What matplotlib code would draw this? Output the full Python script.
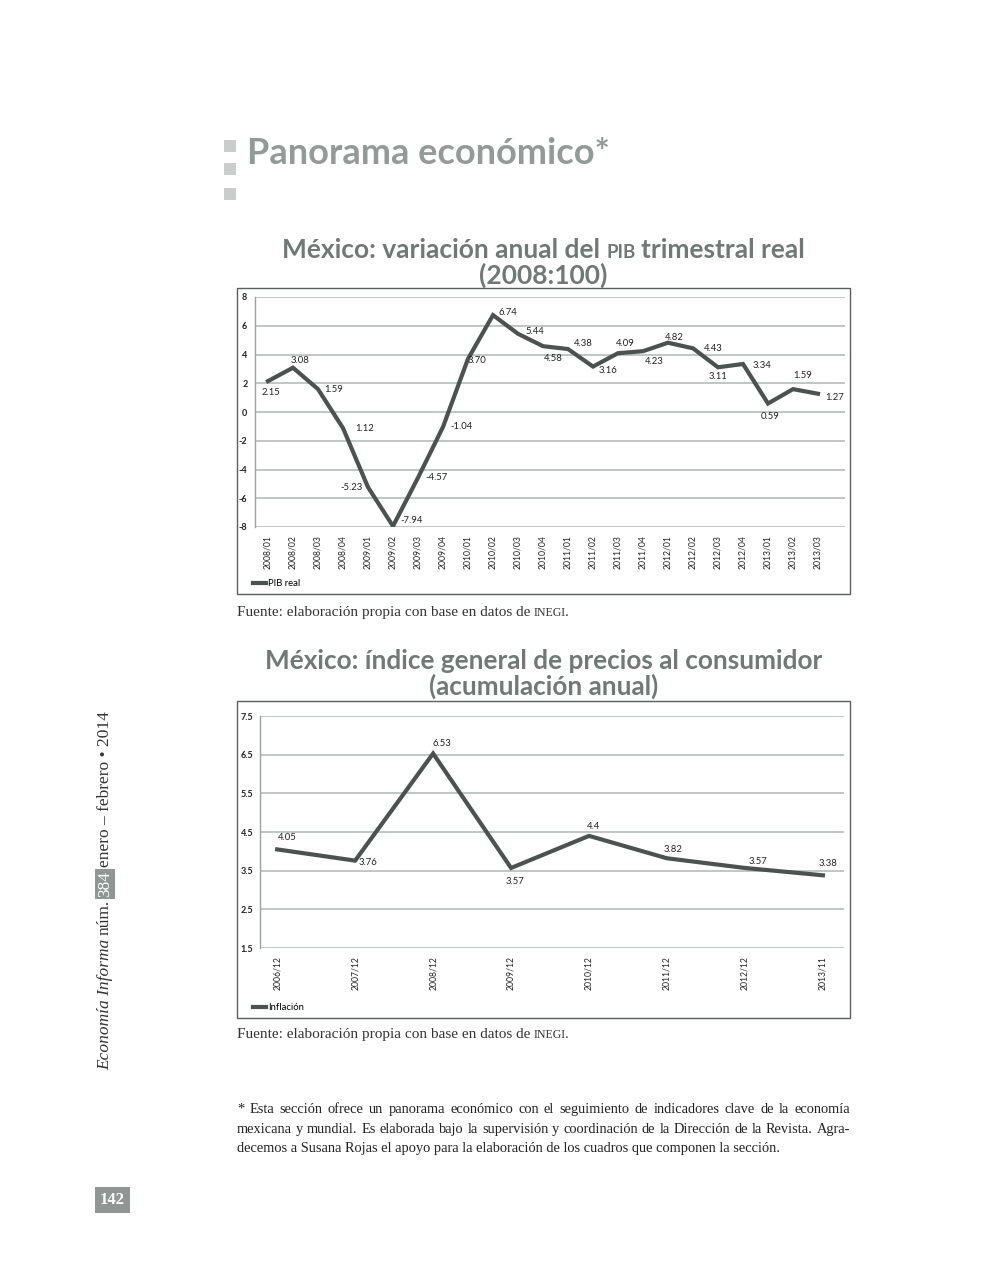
import matplotlib.pyplot as plt
from matplotlib.patches import Rectangle

W, H = 992, 1276

pib_quarters = ["2008/01", "2008/02", "2008/03", "2008/04", "2009/01", "2009/02",
                "2009/03", "2009/04", "2010/01", "2010/02", "2010/03", "2010/04",
                "2011/01", "2011/02", "2011/03", "2011/04", "2012/01", "2012/02",
                "2012/03", "2012/04", "2013/01", "2013/02", "2013/03"]
pib_values = [2.15, 3.08, 1.59, -1.12, -5.23, -7.94, -4.57, -1.04, 3.70, 6.74, 5.44,
              4.58, 4.38, 3.16, 4.09, 4.23, 4.82, 4.43, 3.11, 3.34, 0.59, 1.59, 1.27]
# labels as printed in the source (the 2008/04 label lacks its minus sign)
pib_labels = ["2.15", "3.08", "1.59", "1.12", "-5.23", "-7.94", "-4.57", "-1.04",
              "3.70", "6.74", "5.44", "4.58", "4.38", "3.16", "4.09", "4.23", "4.82",
              "4.43", "3.11", "3.34", "0.59", "1.59", "1.27"]
pib_yticks = [-8, -6, -4, -2, 0, 2, 4, 6, 8]

infl_periods = ["2006/12", "2007/12", "2008/12", "2009/12", "2010/12", "2011/12",
                "2012/12", "2013/11"]
infl_values = [4.05, 3.76, 6.53, 3.57, 4.4, 3.82, 3.57, 3.38]
infl_labels = ["4.05", "3.76", "6.53", "3.57", "4.4", "3.82", "3.57", "3.38"]
infl_yticks = [1.5, 2.5, 3.5, 4.5, 5.5, 6.5, 7.5]

# label offsets in pixels (dx right, dy down)
pib_offsets = [(3, 11), (7, -7), (16, 0), (22, 0), (-16, 0), (19, -6), (19, 0),
               (19, 0), (9, 2), (15, -3), (17, -2), (10, 12), (15, -6), (15, 4),
               (7, -10), (11, 10), (6, -5), (20, 0), (0, 9), (19, 2), (2, 13),
               (10, -14), (17, 4)]
infl_offsets = [(10, -12), (13, 2), (9, -10), (4, 14), (4, -9), (6, -9), (13, -6),
                (5, -12)]

SANS = "Lato"
SERIF = "Liberation Serif"
LINE = "#4b5351"
GRID = "#b9c3c1"
TITLE = "#6f7976"

fig = plt.figure(figsize=(W / 100, H / 100), dpi=100)
renderer = fig.canvas.get_renderer()


def fx(px):
    return px / W


def fy(py):
    return 1 - py / H


def text_run(x, y, parts, ha="left", vertical=False, **common):
    # place text pieces one after another; each piece may carry a gap (px) before it
    objs = []
    total = 0
    for s, props, gap in parts:
        kw = dict(common)
        kw.update(props)
        if vertical:
            t = fig.text(0, 0, s, rotation=90, ha="center", va="bottom", **kw)
            w = t.get_window_extent(renderer).height
        else:
            t = fig.text(0, 0, s, ha="left", va="baseline", **kw)
            w = t.get_window_extent(renderer).width
        objs.append((t, w, gap))
        total += w + gap
    if vertical:
        pos = y
    else:
        pos = x - total / 2 if ha == "center" else x
    for t, w, gap in objs:
        if vertical:
            pos -= gap
            t.set_position((fx(x), fy(pos)))
            pos -= w
        else:
            pos += gap
            t.set_position((fx(pos), fy(y)))
            pos += w
    return objs


def justify(x0, x1, y, line, **kw):
    words = line.split(" ")
    texts = [fig.text(0, fy(y), w, va="baseline", **kw) for w in words]
    widths = [t.get_window_extent(renderer).width for t in texts]
    gap = (x1 - x0 - sum(widths)) / (len(words) - 1)
    pos = x0
    for t, w in zip(texts, widths):
        t.set_x(fx(pos))
        pos += w + gap


# header
for top in (140, 163, 188):
    fig.add_artist(Rectangle((fx(224), fy(top + 12)), 12 / W, 12 / H,
                             transform=fig.transFigure, color="#c9cdcc", lw=0))
fig.text(fx(247), fy(164), "Panorama económico*", fontsize=26, fontweight="bold",
         color="#929b98", family=SANS, va="baseline")


def chart(box, area, x_labels, values, labels, offsets, yticks, ylim, xlim,
          titles, title2_y, title_size, legend_label, source_y, ypad):
    fig.add_artist(Rectangle((fx(box[0]), fy(box[3])), (box[2] - box[0]) / W,
                             (box[3] - box[1]) / H, transform=fig.transFigure,
                             fill=False, ec="#5a5f5e", lw=1.0))
    ax = fig.add_axes([fx(area[0]), fy(area[3]), (area[2] - area[0]) / W,
                       (area[3] - area[1]) / H])
    x = list(range(len(values)))
    ax.plot(x, values, color=LINE, lw=3.0, solid_joinstyle="miter",
            label=legend_label)
    for xi, v, lab, (dx, dy) in zip(x, values, labels, offsets):
        ax.annotate(lab, (xi, v), xytext=(dx, -dy), textcoords="offset pixels",
                    ha="center", va="center", fontsize=6.8, family=SANS,
                    color="#222222")
    ax.set_ylim(*ylim)
    ax.set_xlim(*xlim)
    ax.set_yticks(yticks)
    ax.set_yticklabels([f"{t:g}" for t in yticks], fontsize=6.5, family=SANS,
                       color="#222222", fontweight="bold")
    ax.set_xticks(x)
    ax.set_xticklabels(x_labels, rotation=90, fontsize=6.2, family=SANS,
                       color="#222222", va="top")
    ax.tick_params(length=0, pad=6)
    ax.tick_params(axis="y", pad=ypad)
    for yt in yticks:
        ax.axhline(yt, color=GRID, lw=1.3, zorder=0)
    for side in ("top", "right", "bottom"):
        ax.spines[side].set_visible(False)
    ax.spines["left"].set_color("#9aa3a1")
    ax.spines["left"].set_linewidth(1.0)
    ax.set_facecolor("none")
    ax.legend(loc="lower left", bbox_to_anchor=(fx(box[0] + 12), fy(box[3] - 2)),
              bbox_transform=fig.transFigure, frameon=False, handlelength=1.4,
              handletextpad=0.2, prop={"family": SANS, "size": 6.8},
              borderaxespad=0)
    for parts, yy in zip(titles, (title2_y - 26, title2_y)):
        text_run((box[0] + box[2]) / 2, yy, parts, ha="center",
                 fontsize=title_size, fontweight="bold", color=TITLE, family=SANS)
    text_run(237, source_y,
             [("Fuente: elaboración propia con base en datos de", {}, 0),
              ("INEGI", {"fontsize": 8.6}, 3), (".", {}, 0)],
             fontsize=11, family=SERIF, color="#333333")
    return ax


chart((237, 288, 850, 594), (255, 297, 845, 527), pib_quarters, pib_values,
      pib_labels, pib_offsets, pib_yticks, (-8, 8), (-0.52, 23.08),
      [[("México: variación anual del", {}, 0), ("PIB", {"fontsize": 13.5}, 6),
        ("trimestral real", {}, 6)], [("(2008:100)", {}, 0)]],
      284, 19, "PIB real", 616, 5.5)

chart((237, 701, 850, 1018), (260, 716, 844, 948), infl_periods, infl_values,
      infl_labels, infl_offsets, infl_yticks, (1.5, 7.5), (-0.22, 7.27),
      [[("México: índice general de precios al consumidor", {}, 0)],
       [("(acumulación anual)", {}, 0)]],
      695, 18.8, "Inflación", 1038, 5)

# footnote
foot = ["* Esta sección ofrece un panorama económico con el seguimiento de indicadores clave de la economía",
        "mexicana y mundial. Es elaborada bajo la supervisión y coordinación de la Dirección de la Revista. Agra-",
        "decemos a Susana Rojas el apoyo para la elaboración de los cuadros que componen la sección."]
foot_kw = dict(fontsize=10.4, family=SERIF, color="#222222")
justify(237, 850, 1113, foot[0], **foot_kw)
justify(237, 850, 1133, foot[1], **foot_kw)
fig.text(fx(237), fy(1152), foot[2], va="baseline", **foot_kw)

# side running head
side = text_run(105, 1070, [("Economía Informa", {"style": "italic"}, 0),
                            ("núm.", {}, 4), ("384", {"color": "white"}, 3),
                            ("enero – febrero • 2014", {}, 4)],
                vertical=True, fontsize=12.5, family=SERIF, color="#333333")
t384, h384, _ = side[2]
t384.set_zorder(3)
x384, y384 = t384.get_position()
fig.add_artist(Rectangle((fx(95), y384 - 2 / H), 20 / W, (h384 + 4) / H,
                         transform=fig.transFigure, color="#8e9794", lw=0,
                         zorder=2))

fig.add_artist(Rectangle((fx(95), fy(1213)), 35 / W, 26 / H,
                         transform=fig.transFigure, color="#8e9794", lw=0))
fig.text(fx(112.5), fy(1200), "142", fontsize=12, fontweight="bold", family=SERIF,
         color="white", ha="center", va="center")

fig.savefig("out.png", dpi=100)
